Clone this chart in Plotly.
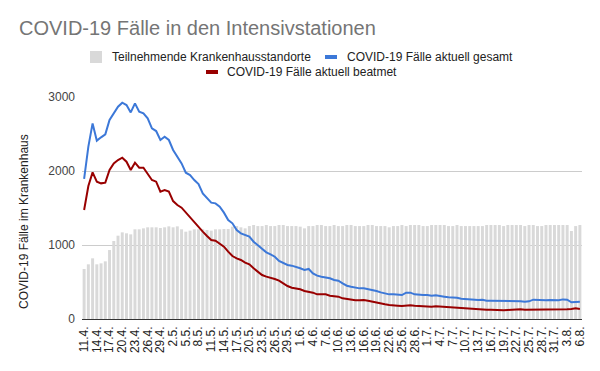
import pandas as pd
import plotly.graph_objects as go

# ---- data ----
dates = pd.date_range("2020-04-11", "2020-08-06", freq="D")
categories = [f"{d.day}.{d.month}." for d in dates]
tick_labels = categories[::3]

standorte = [
    676, 739, 820, 739, 752, 779, 932, 1054, 1126, 1171,
    1158, 1144, 1212, 1212, 1225, 1239, 1239, 1239, 1230, 1239,
    1252, 1239, 1252, 1212, 1180, 1194, 1212, 1212, 1212, 1203,
    1194, 1212, 1212, 1216, 1216, 1248, 1256, 1239, 1225, 1256,
    1270, 1256,
    1256, 1270, 1256, 1256, 1270, 1270, 1256, 1256, 1256, 1248,
    1225, 1256, 1256, 1270, 1270, 1256, 1256, 1270, 1256, 1256,
    1270, 1270, 1256, 1256, 1256, 1270, 1270, 1256, 1256, 1256,
    1239, 1256, 1256, 1270,
    1256, 1270, 1270, 1270, 1256, 1256, 1270, 1270, 1270, 1270,
    1256, 1256, 1270, 1256, 1256, 1256, 1256, 1256, 1256, 1270,
    1270, 1270, 1270, 1256, 1270, 1270, 1270, 1270, 1256, 1270,
    1270, 1256, 1256, 1270, 1270, 1270, 1270, 1270, 1270, 1189,
    1256, 1270,
]

gesamt = [
    1892, 2329, 2643, 2410, 2455, 2495, 2689, 2779, 2869, 2923,
    2891, 2792, 2914, 2800, 2779, 2711, 2576, 2540, 2419, 2464,
    2419, 2284, 2193, 2103, 1977, 1945, 1878, 1824, 1698, 1631,
    1572, 1563, 1518, 1437, 1338, 1293, 1203, 1158, 1135, 1113,
    1045, 1000,
    955, 901, 874, 842, 784, 752, 730, 721, 707, 685,
    662, 676, 617, 586, 572, 563, 550, 527, 518, 482,
    450, 437, 423, 414, 414, 405, 392, 378, 360, 347,
    333, 333, 324, 324, 356, 356, 333, 324, 324, 324,
    315,
    320, 315, 302, 293, 293, 288, 275, 270, 257, 252,
    257, 261, 248, 248, 248, 243, 248, 243, 248, 243,
    239, 234, 239, 261, 257, 252, 252, 257, 257, 252,
    265, 261, 225, 234, 234,
]

beatmet = [
    1473, 1797, 1981, 1856, 1833, 1842, 2013, 2103, 2148, 2180,
    2126, 2013, 2112, 2045, 2045, 1968, 1878, 1856, 1721, 1743,
    1721, 1594, 1540, 1504, 1437, 1383, 1306, 1248, 1180, 1122,
    1067, 1058, 1022, 977, 910, 851, 820, 798, 762, 739,
    685, 640,
    594, 572, 558, 540, 518, 482, 446, 423, 414, 401,
    378, 369, 356, 333, 333, 333, 315, 311, 302, 279,
    270, 257, 253, 253, 257, 248, 234, 225, 212, 198,
    189, 189, 180, 176, 185, 185, 180, 176, 171, 167,
    167,
    171, 167, 162, 158, 153, 149, 144, 140, 135, 131,
    131, 131, 126, 126, 122, 117, 117, 122, 126, 126,
    131, 126, 126, 131, 131, 126, 122, 122, 126, 126,
    126, 131, 135, 144, 135,
]

y_ticks = [0, 1000, 2000, 3000]

series_names = [
    "Teilnehmende Krankenhausstandorte",
    "COVID-19 Fälle aktuell gesamt",
    "COVID-19 Fälle aktuell beatmet",
]
title_text = "COVID-19 Fälle in den Intensivstationen"
y_title = "COVID-19 Fälle im Krankenhaus"

# ---- style ----
# The page puts the figure 8px in from the top-left corner (default body margin),
# so layout positions below are given in page pixels and shifted by OFF.
OFF = 8
W, H = 600, 371
PLOT_L, PLOT_R, PLOT_T, PLOT_B = 82, 582, 97, 319          # page pixels
L, T = PLOT_L - OFF, PLOT_T - OFF
R, B = W - (PLOT_R - OFF), H - (PLOT_B - OFF)
PW, PH = W - L - R, H - T - B
FONT = "Arial, Liberation Sans, sans-serif"
C_BAR, C_BLUE, C_RED = "#d9d9d9", "#3c78d8", "#990000"


def px_x(px):
    return (px - PLOT_L) / PW


def px_y(py):
    return (PLOT_B - py) / PH


fig = go.Figure()
fig.add_trace(go.Bar(x=categories, y=standorte, name=series_names[0],
                     marker=dict(color=C_BAR, line=dict(width=0))))
fig.add_trace(go.Scatter(x=categories, y=gesamt, name=series_names[1], mode="lines",
                         line=dict(color=C_BLUE, width=2)))
fig.add_trace(go.Scatter(x=categories, y=beatmet, name=series_names[2], mode="lines",
                         line=dict(color=C_RED, width=2)))

# custom legend (two centered rows), page pixel positions
legend_items = [
    ("square", C_BAR, 90, 110, 57, series_names[0]),
    ("line", C_BLUE, 325, 345, 57, series_names[1]),
    ("line", C_RED, 206, 225, 72, series_names[2]),
]
shapes = []
annotations = []
for kind, col, sx, tx, cy, label in legend_items:
    if kind == "square":
        x0, x1, y0, y1 = sx, sx + 12, cy - 6, cy + 6
    else:
        x0, x1, y0, y1 = sx, sx + 12, cy - 2, cy + 2
    shapes.append(dict(type="rect", xref="paper", yref="paper",
                       x0=px_x(x0), x1=px_x(x1), y0=px_y(y1), y1=px_y(y0),
                       fillcolor=col, line=dict(width=0)))
    annotations.append(dict(text=label, xref="paper", yref="paper",
                            x=px_x(tx), y=px_y(cy), xanchor="left", yanchor="middle",
                            showarrow=False, font=dict(family=FONT, size=12, color="#222222")))

annotations.append(dict(text=y_title, xref="paper", yref="paper",
                        x=px_x(24), y=px_y(222), xanchor="center", yanchor="middle",
                        textangle=-90, showarrow=False,
                        font=dict(family=FONT, size=12, color="#222222")))

fig.update_layout(
    width=W, height=H,
    margin=dict(l=L, r=R, t=T, b=B, pad=0),
    paper_bgcolor="white", plot_bgcolor="white",
    showlegend=False,
    bargap=0.3,
    title=dict(text=title_text, xref="container", yref="container",
               x=(19 - OFF) / W, xanchor="left", y=1 - (28 - OFF) / H, yanchor="middle",
               font=dict(family=FONT, size=20, color="#757575")),
    shapes=shapes,
    annotations=annotations,
    xaxis=dict(type="category", tickmode="array", tickvals=tick_labels, ticktext=tick_labels,
               tickangle=-90, showgrid=False, showline=False, zeroline=False,
               ticks="", ticklabelstandoff=4,
               tickfont=dict(family=FONT, size=12, color="#222222")),
    yaxis=dict(range=[0, 3000], tickvals=y_ticks, showgrid=True, gridcolor="#cccccc",
               gridwidth=1, zeroline=True, zerolinecolor="#333333", zerolinewidth=1,
               showline=False, ticks="", ticklabelstandoff=6,
               tickfont=dict(family=FONT, size=12, color="#444444")),
)

fig.write_html("out.html")
